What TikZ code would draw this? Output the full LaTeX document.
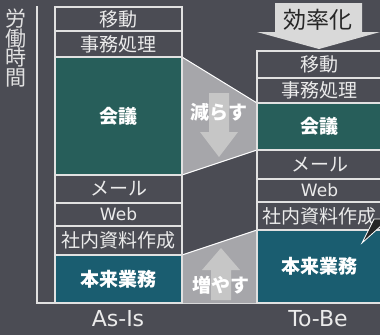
\documentclass[tikz,border=0pt]{standalone}
\usepackage{fontspec}
\setmainfont{Noto Sans CJK JP}
\newfontfamily\latinfont{DejaVu Sans}
\usepackage{tikz}
\definecolor{BgGray}{RGB}{75,76,84}
\definecolor{LineGray}{RGB}{225,225,225}
\definecolor{TextGray}{RGB}{235,235,235}
\definecolor{MeetGreen}{RGB}{39,94,90}
\definecolor{CoreTeal}{RGB}{26,93,112}
\definecolor{WedgeGray}{RGB}{166,166,170}
\definecolor{ArrowGray}{RGB}{198,198,198}
\definecolor{TopGray}{RGB}{217,217,217}
\pgfdeclarelayer{bg}
\pgfsetlayers{bg,main}
\tikzset{
  cell/.style={draw=LineGray,line width=1.2pt,text=TextGray,inner sep=0pt,outer sep=0pt,
    anchor=north west,font=\fontsize{19}{19}\selectfont},
  meet/.style={cell,fill=MeetGreen,text=white,font=\bfseries\fontsize{19}{19}\selectfont},
  core/.style={cell,fill=CoreTeal,text=white,font=\bfseries\fontsize{19}{19}\selectfont},
  tag/.style={text=white,font=\bfseries\fontsize{19}{19}\selectfont},
}

\begin{document}
\begin{tikzpicture}[x=1pt,y=-1pt]
  \useasboundingbox (0,0) rectangle (380,335);

  % As-Is
  \node[cell,minimum width=127,minimum height=24] (moveA) at (55,7) {移動};
  \node[cell,minimum width=127,minimum height=26] (officeA) at (55,31) {事務処理};
  \node[meet,minimum width=127,minimum height=118] (meetA) at (55,57) {会議};
  \node[cell,minimum width=127,minimum height=28] (mailA) at (55,175) {メール};
  \node[cell,minimum width=127,minimum height=23,font=\latinfont\fontsize{17}{17}\selectfont] (webA) at (55,203) {Web};
  \node[cell,minimum width=127,minimum height=29] (docsA) at (55,226) {社内資料作成};
  \node[core,minimum width=127,minimum height=48] (coreA) at (55,255) {本来業務};

  % To-Be
  \node[cell,minimum width=125,minimum height=27] (moveB) at (257,51) {移動};
  \node[cell,minimum width=125,minimum height=25] (officeB) at (257,78) {事務処理};
  \node[meet,minimum width=125,minimum height=47] (meetB) at (257,103) {会議};
  \node[cell,minimum width=125,minimum height=29] (mailB) at (257,150) {メール};
  \node[cell,minimum width=125,minimum height=23,font=\latinfont\fontsize{17}{17}\selectfont] (webB) at (257,179) {Web};
  \node[cell,minimum width=125,minimum height=28] (docsB) at (257,202) {社内資料作成};
  \node[core,minimum width=125,minimum height=73] (coreB) at (257,230) {本来業務};

  \begin{pgfonlayer}{bg}
    \fill[BgGray] (0,0) rectangle (380,335);
    % axis
    \coordinate (ytop) at (37,6);
    \coordinate (origin) at (37,303);
    \coordinate (xend) at (382,303);
    \draw[LineGray,line width=1.2pt] (ytop) -- (origin) -- (xend);
    % wedges
    \fill[WedgeGray] (meetA.north east) -- (meetB.north west) -- (meetB.south west) -- (meetA.south east) -- cycle;
    \draw[white,line width=1pt] (meetA.north east) -- (meetB.north west);
    \draw[white,line width=1pt] (meetA.south east) -- (meetB.south west);
    \fill[WedgeGray] (coreA.north east) -- (coreB.north west) -- (coreB.south west) -- (coreA.south east) -- cycle;
    \draw[white,line width=1pt] (coreA.north east) -- (coreB.north west);
  \end{pgfonlayer}

  % arrows
  \fill[ArrowGray] (209,93) -- (229,93) -- (229,132) -- (238,132) -- (219,157) -- (200,132) -- (209,132) -- cycle;
  \node[tag] (less) at (219,112) {減らす};
  \fill[ArrowGray] (211,300) -- (231,300) -- (231,270) -- (240,270) -- (221,248) -- (202,270) -- (211,270) -- cycle;
  \node[tag] (more) at (221,285) {増やす};
  \fill[TopGray] (275,3) -- (362,3) -- (362,32) -- (380,32) -- (319,49) -- (257,32) -- (275,32) -- cycle;
  \node[text=black!85,font=\fontsize{23}{23}\selectfont] (better) at (318,20) {効率化};

  % callout tail
  \filldraw[fill=black!85,draw=white,line width=0.8pt] (362,243) -- (374,219) -- (382,219) -- (382,225) -- cycle;

  % labels
  \node[text=LineGray,align=center,font=\fontsize{21}{19.5}\selectfont] (ylabel) at (16,48) {労\\働\\時\\間};
  \node[text=TextGray,font=\latinfont\fontsize{22}{22}\selectfont] (asis) at (118,319) {As-Is};
  \node[text=TextGray,font=\latinfont\fontsize{22}{22}\selectfont] (tobe) at (318,319) {To-Be};
\end{tikzpicture}
\end{document}
